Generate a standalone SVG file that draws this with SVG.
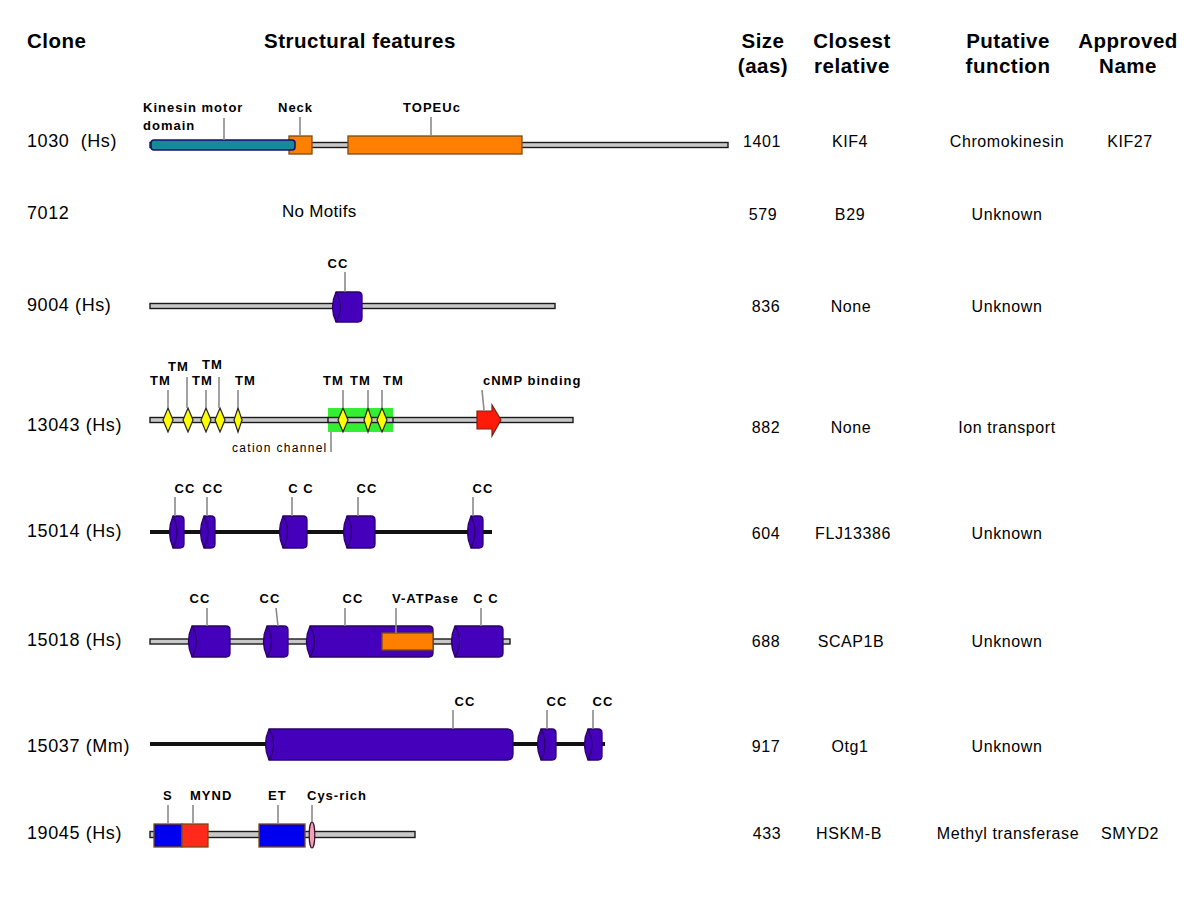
<svg xmlns="http://www.w3.org/2000/svg" width="1200" height="920" viewBox="0 0 1200 920">
<style>
text{font-family:"Liberation Sans",Arial,sans-serif;fill:#000}
.hd{font-size:20.5px;font-weight:bold;letter-spacing:0.5px}
.cl{font-size:18px;letter-spacing:0.6px}
.v{font-size:16px;letter-spacing:0.6px;text-anchor:middle}
.f{font-size:13px;font-weight:bold;letter-spacing:1px}
.ld{stroke:#8a8a8a;stroke-width:1.6;fill:none}
.bb{fill:#c8c8c8;stroke:#1a1a1a;stroke-width:1.4}
.bk{stroke:#111;stroke-width:4;fill:none}
.cyl{fill:#4400bb;stroke:#2a0068;stroke-width:1.3}
.arc{fill:none;stroke:#2a0068;stroke-width:1.3}
.or{fill:#ff8000;stroke:#7a4a12;stroke-width:1.3}
.tm{fill:#ffff00;stroke:#222;stroke-width:1.2}
.blu{fill:#0000ee;stroke:#7a4a12;stroke-width:1.3}
.red{fill:#ff2a1a;stroke:#7a4a12;stroke-width:1.3}
</style>
<rect width="1200" height="920" fill="#fff"/>
<g id="headers">
<text class="hd" x="27" y="48">Clone</text>
<text class="hd" x="360" y="48" text-anchor="middle">Structural features</text>
<text class="hd" x="763" y="48" text-anchor="middle">Size</text>
<text class="hd" x="763" y="73" text-anchor="middle">(aas)</text>
<text class="hd" x="852" y="48" text-anchor="middle">Closest</text>
<text class="hd" x="852" y="73" text-anchor="middle">relative</text>
<text class="hd" x="1008" y="48" text-anchor="middle">Putative</text>
<text class="hd" x="1008" y="73" text-anchor="middle">function</text>
<text class="hd" x="1128" y="48" text-anchor="middle">Approved</text>
<text class="hd" x="1128" y="73" text-anchor="middle">Name</text>
</g>
<g id="row-1030">
<text class="cl" x="27" y="147" xml:space="preserve">1030  (Hs)</text>
<rect class="bb" x="150" y="142.5" width="578" height="5"/>
<rect class="or" x="289" y="136" width="23" height="18"/>
<rect x="151" y="140" width="144" height="10" rx="3" fill="#168a98" stroke="#10106a" stroke-width="1.5"/>
<rect class="or" x="348" y="136" width="174" height="18"/>
<line class="ld" x1="224" y1="118" x2="224" y2="140"/>
<line class="ld" x1="300" y1="117" x2="300" y2="136"/>
<line class="ld" x1="431" y1="117" x2="431" y2="136"/>
<text class="f" x="143" y="112">Kinesin motor</text>
<text class="f" x="143" y="130">domain</text>
<text class="f" x="278" y="112">Neck</text>
<text class="f" x="432" y="112" text-anchor="middle">TOPEUc</text>
<text class="v" x="762" y="147">1401</text>
<text class="v" x="850" y="147">KIF4</text>
<text class="v" x="1007" y="147">Chromokinesin</text>
<text class="v" x="1130" y="147">KIF27</text>
</g>
<g id="row-7012">
<text class="cl" x="27" y="219">7012</text>
<text x="282" y="217" style="font-size:17px;letter-spacing:0.3px">No Motifs</text>
<text class="v" x="763" y="220">579</text>
<text class="v" x="850" y="220">B29</text>
<text class="v" x="1007" y="220">Unknown</text>
</g>
<g id="row-9004">
<text class="cl" x="27" y="311">9004 (Hs)</text>
<rect class="bb" x="150" y="303.5" width="405" height="5"/>
<path class="cyl" d="M336 292 H358 Q362 292 362 296 V318 Q362 322 358 322 H336 Q329 307 336 292 Z"/>
<path class="arc" d="M336 292 Q345 307 336 322"/>
<line class="ld" x1="345" y1="272" x2="345" y2="292"/>
<text class="f" x="338" y="268" text-anchor="middle">CC</text>
<text class="v" x="766" y="312">836</text>
<text class="v" x="851" y="312">None</text>
<text class="v" x="1007" y="312">Unknown</text>
</g>
<g id="row-13043">
<text class="cl" x="27" y="431">13043 (Hs)</text>
<rect class="bb" x="150" y="417.5" width="423" height="5"/>
<rect x="328" y="408" width="65" height="24" fill="#33ee33"/>
<rect class="bb" x="328" y="417.5" width="65" height="5"/>
<polygon class="tm" points="168,408 173,420 168,432 163,420"/>
<polygon class="tm" points="188,408 193,420 188,432 183,420"/>
<polygon class="tm" points="206,408 211,420 206,432 201,420"/>
<polygon class="tm" points="220,408 225,420 220,432 215,420"/>
<polygon class="tm" points="238,408 242,420 238,432 234,420"/>
<polygon class="tm" points="343,408 348,420 343,432 338,420"/>
<polygon class="tm" points="368,408 372,420 368,432 364,420"/>
<polygon class="tm" points="382,408 387,420 382,432 377,420"/>
<polygon points="477,411 492,411 492,405 501,420 492,436 492,429 477,429" fill="#ff1a0a" stroke="#7a2010" stroke-width="1.2"/>
<line class="ld" x1="168" y1="390" x2="168" y2="408"/>
<line class="ld" x1="187" y1="377" x2="187" y2="408"/>
<line class="ld" x1="206" y1="390" x2="206" y2="408"/>
<line class="ld" x1="219" y1="377" x2="219" y2="408"/>
<line class="ld" x1="238" y1="390" x2="238" y2="408"/>
<line class="ld" x1="343" y1="390" x2="343" y2="408"/>
<line class="ld" x1="368" y1="390" x2="368" y2="408"/>
<line class="ld" x1="382" y1="390" x2="382" y2="408"/>
<line class="ld" x1="482" y1="390" x2="484" y2="410"/>
<line class="ld" x1="331" y1="432" x2="331" y2="452"/>
<text class="f" x="150" y="385">TM</text>
<text class="f" x="168" y="371">TM</text>
<text class="f" x="192" y="385">TM</text>
<text class="f" x="202" y="369">TM</text>
<text class="f" x="235" y="385">TM</text>
<text class="f" x="323" y="385">TM</text>
<text class="f" x="350" y="385">TM</text>
<text class="f" x="383" y="385">TM</text>
<text class="f" x="483" y="385">cNMP binding</text>
<text x="232" y="452" style="font-size:12px;letter-spacing:1.3px">cation channel</text>
<text class="v" x="766" y="433">882</text>
<text class="v" x="851" y="433">None</text>
<text class="v" x="1007" y="433">Ion transport</text>
</g>
<g id="row-15014">
<text class="cl" x="27" y="537">15014 (Hs)</text>
<line class="bk" x1="150" y1="532" x2="492" y2="532"/>
<path class="cyl" d="M173 516 H180 Q184 516 184 520 V544 Q184 548 180 548 H173 Q166 532 173 516 Z"/>
<path class="arc" d="M173 516 Q181 532 173 548"/>
<path class="cyl" d="M204 516 H211 Q215 516 215 520 V544 Q215 548 211 548 H204 Q197 532 204 516 Z"/>
<path class="arc" d="M204 516 Q212 532 204 548"/>
<path class="cyl" d="M283 516 H303 Q307 516 307 520 V544 Q307 548 303 548 H283 Q276 532 283 516 Z"/>
<path class="arc" d="M283 516 Q292 532 283 548"/>
<path class="cyl" d="M347 516 H371 Q375 516 375 520 V544 Q375 548 371 548 H347 Q340 532 347 516 Z"/>
<path class="arc" d="M347 516 Q356 532 347 548"/>
<path class="cyl" d="M471 516 H479 Q483 516 483 520 V544 Q483 548 479 548 H471 Q464 532 471 516 Z"/>
<path class="arc" d="M471 516 Q479 532 471 548"/>
<line class="ld" x1="175" y1="497" x2="175" y2="516"/>
<line class="ld" x1="207" y1="497" x2="207" y2="516"/>
<line class="ld" x1="292" y1="497" x2="292" y2="516"/>
<line class="ld" x1="358" y1="497" x2="358" y2="516"/>
<line class="ld" x1="473" y1="497" x2="473" y2="516"/>
<text class="f" x="185" y="493" text-anchor="middle">CC</text>
<text class="f" x="213" y="493" text-anchor="middle">CC</text>
<text class="f" x="301" y="493" text-anchor="middle">C C</text>
<text class="f" x="367" y="493" text-anchor="middle">CC</text>
<text class="f" x="483" y="493" text-anchor="middle">CC</text>
<text class="v" x="766" y="539">604</text>
<text class="v" x="853" y="539">FLJ13386</text>
<text class="v" x="1007" y="539">Unknown</text>
</g>
<g id="row-15018">
<text class="cl" x="27" y="646">15018 (Hs)</text>
<rect class="bb" x="150" y="639" width="360" height="5"/>
<path class="cyl" d="M192 626 H226 Q230 626 230 630 V653 Q230 657 226 657 H192 Q185 641.5 192 626 Z"/>
<path class="arc" d="M192 626 Q201 641.5 192 657"/>
<path class="cyl" d="M267 626 H284 Q288 626 288 630 V653 Q288 657 284 657 H267 Q260 641.5 267 626 Z"/>
<path class="arc" d="M267 626 Q276 641.5 267 657"/>
<path class="cyl" d="M310 626 H429 Q433 626 433 630 V653 Q433 657 429 657 H310 Q303 641.5 310 626 Z"/>
<path class="arc" d="M310 626 Q319 641.5 310 657"/>
<path class="cyl" d="M455 626 H499 Q503 626 503 630 V653 Q503 657 499 657 H455 Q448 641.5 455 626 Z"/>
<path class="arc" d="M455 626 Q464 641.5 455 657"/>
<rect class="or" x="382" y="633" width="51" height="17"/>
<line class="ld" x1="207" y1="608" x2="207" y2="626"/>
<line class="ld" x1="276" y1="608" x2="278" y2="626"/>
<line class="ld" x1="345" y1="608" x2="345" y2="626"/>
<line class="ld" x1="396" y1="608" x2="396" y2="633"/>
<line class="ld" x1="481" y1="608" x2="481" y2="626"/>
<text class="f" x="200" y="603" text-anchor="middle">CC</text>
<text class="f" x="270" y="603" text-anchor="middle">CC</text>
<text class="f" x="353" y="603" text-anchor="middle">CC</text>
<text class="f" x="392" y="603">V-ATPase</text>
<text class="f" x="486" y="603" text-anchor="middle">C C</text>
<text class="v" x="766" y="647">688</text>
<text class="v" x="851" y="647">SCAP1B</text>
<text class="v" x="1007" y="647">Unknown</text>
</g>
<g id="row-15037">
<text class="cl" x="27" y="752">15037 (Mm)</text>
<line class="bk" x1="150" y1="744" x2="605" y2="744"/>
<path class="cyl" d="M269 729 H507 Q513 729 513 735 V754 Q513 760 507 760 H269 Q262 744.5 269 729 Z"/>
<path class="arc" d="M269 729 Q278 744.5 269 760"/>
<path class="cyl" d="M541 729 H552 Q556 729 556 733 V756 Q556 760 552 760 H541 Q534 744.5 541 729 Z"/>
<path class="arc" d="M541 729 Q549 744.5 541 760"/>
<path class="cyl" d="M588 729 H598 Q602 729 602 733 V756 Q602 760 598 760 H588 Q581 744.5 588 729 Z"/>
<path class="arc" d="M588 729 Q596 744.5 588 760"/>
<line class="ld" x1="453" y1="710" x2="453" y2="729"/>
<line class="ld" x1="547" y1="710" x2="547" y2="729"/>
<line class="ld" x1="593" y1="710" x2="593" y2="729"/>
<text class="f" x="465" y="706" text-anchor="middle">CC</text>
<text class="f" x="557" y="706" text-anchor="middle">CC</text>
<text class="f" x="603" y="706" text-anchor="middle">CC</text>
<text class="v" x="766" y="752">917</text>
<text class="v" x="850" y="752">Otg1</text>
<text class="v" x="1007" y="752">Unknown</text>
</g>
<g id="row-19045">
<text class="cl" x="27" y="839">19045 (Hs)</text>
<rect class="bb" x="150" y="831.5" width="265" height="6"/>
<rect class="blu" x="154" y="824" width="28" height="23"/>
<rect class="red" x="182" y="824" width="26" height="23"/>
<rect class="blu" x="259" y="824" width="46" height="23"/>
<ellipse cx="312" cy="835" rx="2.8" ry="13" fill="#f0a0b8" stroke="#3a1020" stroke-width="1.2"/>
<line class="ld" x1="168" y1="805" x2="168" y2="824"/>
<line class="ld" x1="193" y1="805" x2="193" y2="824"/>
<line class="ld" x1="278" y1="805" x2="278" y2="824"/>
<line class="ld" x1="312" y1="805" x2="312" y2="822"/>
<text class="f" x="163" y="800">S</text>
<text class="f" x="190" y="800">MYND</text>
<text class="f" x="268" y="800">ET</text>
<text class="f" x="307" y="800">Cys-rich</text>
<text class="v" x="767" y="839">433</text>
<text class="v" x="849" y="839">HSKM-B</text>
<text class="v" x="1008" y="839">Methyl transferase</text>
<text class="v" x="1130" y="839">SMYD2</text>
</g>
</svg>
